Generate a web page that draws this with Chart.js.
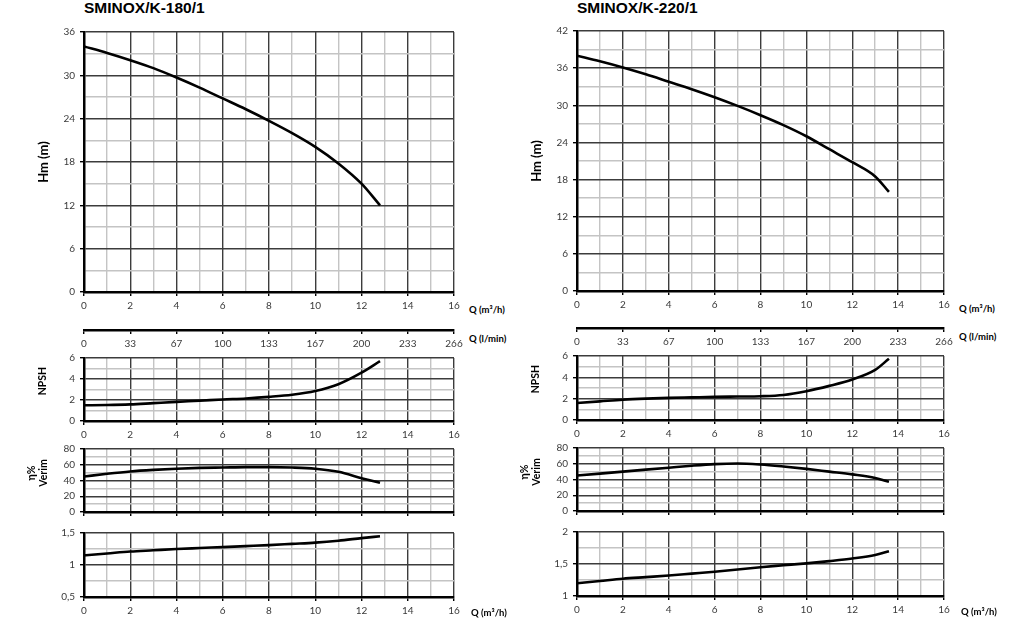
<!DOCTYPE html>
<html>
<head>
<meta charset="utf-8">
<script src="https://cdn.jsdelivr.net/npm/chart.js@4"></script>
<style>
  body { margin: 0; background: #fff; width: 1024px; height: 629px; overflow: hidden; position: relative; }
  canvas { position: absolute; }
  .lbl { position: absolute; white-space: pre; color: #000; font-family: Lato, sans-serif; font-weight: bold; text-align: center; line-height: 1.15; }
  .title { font-family: "Liberation Sans", Arial, sans-serif; font-size: 15.5px; }
  .ylab { font-size: 13px; }
  .small { font-size: 10.5px; }
  .unit { font-size: 9.5px; }
</style>
</head>
<body>
<script>
// SMINOX/K-180/1
const q180 = [0, 1, 2, 3, 4, 5, 6, 7, 8, 9, 10, 11, 12, 12.8];
const hm180 = [34, 33.1, 32.1, 31, 29.7, 28.3, 26.8, 25.3, 23.7, 22, 20.1, 17.8, 15, 12];
const npsh180 = [1.5, 1.52, 1.58, 1.7, 1.82, 1.93, 2.05, 2.15, 2.3, 2.5, 2.85, 3.5, 4.6, 5.7];
const eff180 = [45, 48.5, 51.5, 53.5, 55, 56, 56.5, 57, 57, 56.5, 55, 51, 43, 37];
const pow180 = [1.15, 1.18, 1.21, 1.23, 1.25, 1.265, 1.28, 1.295, 1.31, 1.33, 1.35, 1.38, 1.42, 1.45];

// SMINOX/K-220/1
const q220 = [0, 1, 2, 3, 4, 5, 6, 7, 8, 9, 10, 11, 12, 13, 13.6];
const hm220 = [38, 37.1, 36.1, 35, 33.8, 32.6, 31.3, 29.9, 28.4, 26.8, 25, 22.9, 20.8, 18.5, 16];
const npsh220 = [1.6, 1.75, 1.9, 2, 2.07, 2.12, 2.17, 2.2, 2.23, 2.35, 2.7, 3.2, 3.8, 4.7, 5.75];
const eff220 = [45, 47.5, 50, 52.5, 55, 57.5, 59.5, 60.3, 59, 56.5, 53.5, 50, 46.5, 42, 37];
const pow220 = [1.2, 1.235, 1.27, 1.295, 1.32, 1.35, 1.38, 1.415, 1.45, 1.48, 1.51, 1.545, 1.585, 1.64, 1.7];

// tick labels of the Q (l/min) axis, one for every 2 m3/h
const lminLabels = ['0', '33', '67', '100', '133', '167', '200', '233', '266'];

const DARK = '#3c3c3c', LIGHT = '#c4c4c4', TXT = '#3a3a3a';
const TICKFONT = { family: 'Lato', size: 10 };
const YW = 50, PT = 10, PR = 14;

function addCanvas(l, t, w, h) {
  const c = document.createElement('canvas');
  c.width = w; c.height = h;
  c.style.left = l + 'px'; c.style.top = t + 'px';
  c.style.width = w + 'px'; c.style.height = h + 'px';
  document.body.appendChild(c);
  return c;
}

const isMajor = (v, m) => Math.abs(v / m - Math.round(v / m)) < 1e-6;
const comma = v => String(v).replace('.', ',');

function xScale(xh, showX) {
  return {
    type: 'linear', min: 0, max: 16,
    afterFit: s => { s.height = xh; },
    ticks: {
      stepSize: 1, autoSkip: false, maxRotation: 0, display: showX, padding: 4,
      color: TXT, font: TICKFONT,
      callback: v => (v % 2 === 0 ? String(v) : '')
    },
    grid: {
      color: c => (c.tick.value % 2 === 0 ? DARK : LIGHT),
      lineWidth: 1.4, tickLength: 4,
      tickColor: c => (c.tick.value % 2 === 0 ? '#000' : 'rgba(0,0,0,0)')
    },
    border: { color: '#000', width: 2.5 }
  };
}

function panel(box, y, q, vals, showX, xh) {
  const w = box.r - box.l + YW + PR, h = box.b - box.t + PT + xh;
  const c = addCanvas(box.l - YW, box.t - PT, w, h);
  new Chart(c, {
    type: 'line',
    data: {
      datasets: [{
        data: q.map((x, i) => ({ x: x, y: vals[i] })),
        borderColor: '#000', borderWidth: 2.6, pointRadius: 0,
        cubicInterpolationMode: 'monotone', fill: false
      }]
    },
    options: {
      responsive: false, animation: false, events: [],
      layout: { padding: { top: PT, right: PR, left: 0, bottom: 0 } },
      plugins: { legend: { display: false }, tooltip: { enabled: false } },
      scales: {
        x: xScale(xh, showX),
        y: {
          min: y.min, max: y.max,
          afterFit: s => { s.width = YW; },
          ticks: {
            stepSize: y.step, autoSkip: false, padding: 5, color: TXT, font: TICKFONT,
            callback: v => (isMajor(v, y.major) ? comma(v) : '')
          },
          grid: {
            color: c => (isMajor(c.tick.value, y.major) ? DARK : LIGHT),
            lineWidth: 1.4, tickLength: 4,
            tickColor: c => (isMajor(c.tick.value, y.major) ? '#000' : 'rgba(0,0,0,0)')
          },
          border: { color: '#000', width: 2.5 }
        }
      }
    }
  });
}

function lminAxis(l, r, yLine) {
  const xh = 24;
  const c = addCanvas(l - YW, yLine - 2 - PT, r - l + YW + PR, 2 + PT + xh);
  new Chart(c, {
    type: 'line',
    data: { datasets: [] },
    options: {
      responsive: false, animation: false, events: [],
      layout: { padding: { top: PT, right: PR, left: YW, bottom: 0 } },
      plugins: { legend: { display: false }, tooltip: { enabled: false } },
      scales: {
        x: {
          type: 'linear', min: 0, max: 16,
          afterFit: s => { s.height = xh; },
          ticks: {
            stepSize: 2, autoSkip: false, maxRotation: 0, padding: 4, color: TXT, font: TICKFONT,
            callback: (v, i) => lminLabels[i]
          },
          grid: { drawOnChartArea: false, tickLength: 4, tickColor: '#000', lineWidth: 1.4 },
          border: { color: '#000', width: 2.5 }
        },
        y: { display: false, min: 0, max: 1 }
      }
    }
  });
}

function text(str, x, y, cls, opts) {
  const d = document.createElement('div');
  d.className = 'lbl ' + cls;
  d.textContent = str;
  d.style.left = x + 'px'; d.style.top = y + 'px';
  const tx = opts && opts.left ? '0' : '-50%';
  d.style.transform = 'translate(' + tx + ',-50%)' + (opts && opts.rot ? ' rotate(-90deg)' : '');
  document.body.appendChild(d);
}

function pumpSet(o) {
  const l = o.l, r = o.r;
  panel({ l: l, r: r, t: o.hm[0], b: o.hm[1] }, { min: 0, max: o.hmMax, step: 3, major: 6 }, o.q, o.hmVals, true, 24);
  lminAxis(l, r, o.lmin);
  panel({ l: l, r: r, t: o.np[0], b: o.np[1] }, { min: 0, max: 6, step: 1, major: 2 }, o.q, o.npVals, true, 24);
  panel({ l: l, r: r, t: o.ef[0], b: o.ef[1] }, { min: 0, max: 80, step: 10, major: 20 }, o.q, o.efVals, false, 6);
  panel({ l: l, r: r, t: o.pw[0], b: o.pw[1] }, { min: o.pwMin, max: o.pwMin + 1, step: 0.25, major: 0.5 }, o.q, o.pwVals, true, 24);

  text(o.title, l, 8, 'title', { left: true });
  text('Hm (m)', l - 41, (o.hm[0] + o.hm[1]) / 2, 'ylab', { rot: true });
  text('NPSH', l - 42, o.np[0] + 24, 'small', { rot: true });
  text('η%\nVerim', l - 47, o.ef[0] + 25, 'small', { rot: true });
  text('Q (m³/h)', r + 15, o.hm[1] + 18, 'unit', { left: true });
  text('Q (l/min)', r + 15, o.lmin + 9, 'unit', { left: true });
  text('Q (m³/h)', r + 17, o.pw[1] + 16, 'unit', { left: true });
}

pumpSet({
  title: 'SMINOX/K-180/1', l: 84, r: 454,
  hm: [31, 292], hmMax: 36, lmin: 330, np: [357, 421], ef: [448, 517], pw: [532, 597], pwMin: 0.5,
  q: q180, hmVals: hm180, npVals: npsh180, efVals: eff180, pwVals: pow180
});

pumpSet({
  title: 'SMINOX/K-220/1', l: 577, r: 944,
  hm: [30, 291], hmMax: 42, lmin: 328, np: [355, 420], ef: [447, 516], pw: [531, 596], pwMin: 1,
  q: q220, hmVals: hm220, npVals: npsh220, efVals: eff220, pwVals: pow220
});
</script>
</body>
</html>
